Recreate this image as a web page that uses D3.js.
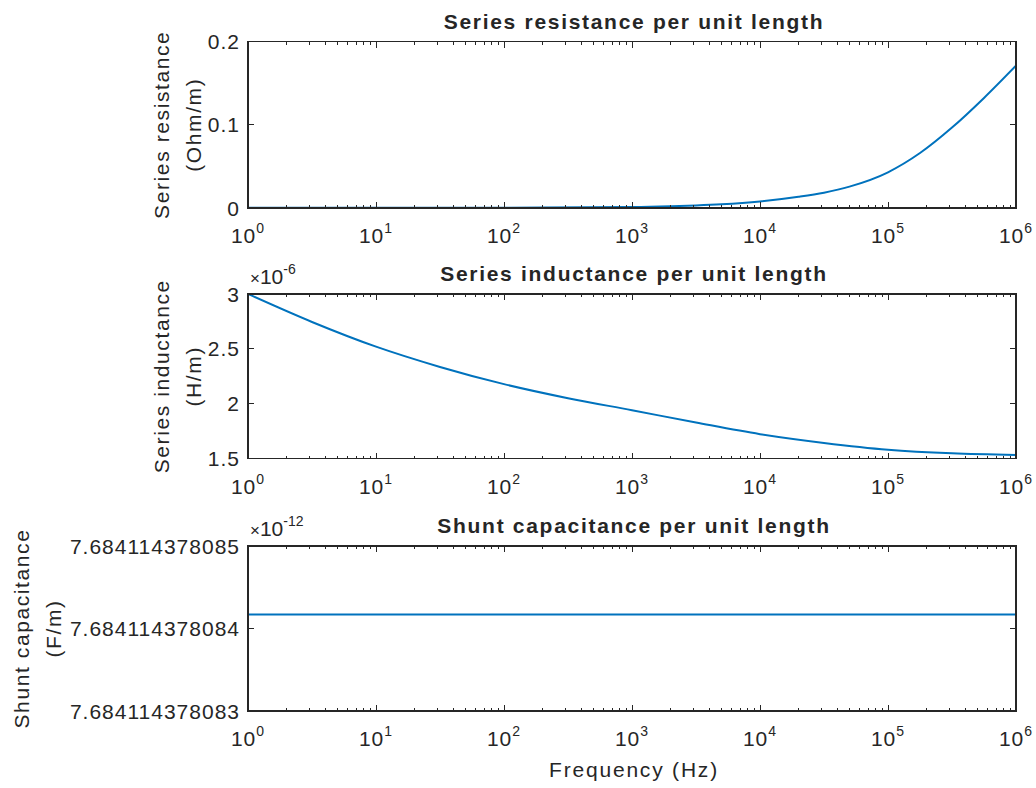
<!DOCTYPE html>
<html><head><meta charset="utf-8">
<script src="https://cdn.jsdelivr.net/npm/d3@7"></script>
<style>
body{margin:0;background:#fff}
text{font-family:"Liberation Sans",Arial,Helvetica,sans-serif;fill:#262626}
</style>
</head><body>
<svg id="c" width="1036" height="788"></svg>
<script>
// ---- data ----
const freqR = [1, 10, 100, 1000, 2000, 3162, 5000, 1e4, 2e4, 31623, 5e4, 1e5, 177828, 316228, 562341, 1e6];
const resistance = [0.0003, 0.0003, 0.0004, 0.0011, 0.002, 0.003, 0.0044, 0.0078, 0.0134, 0.0184, 0.0257, 0.0429, 0.066, 0.0966, 0.1322, 0.171];
const freqL = [1, 3.162, 10, 31.62, 100, 316.2, 1000, 3162, 1e4, 31623, 1e5, 316228, 1e6];
const inductance = [3.0, 2.745, 2.52, 2.335, 2.178, 2.05, 1.94, 1.828, 1.722, 1.642, 1.58, 1.547, 1.532]; // x1e-6
const freqC = [1, 1e6];
const capacitance = [7.68411437808417, 7.68411437808417]; // x1e-12
const xTickExps = [0, 1, 2, 3, 4, 5, 6];
const yTickLabelsR = ["0", "0.1", "0.2"];
const yTickLabelsL = ["1.5", "2", "2.5", "3"];
const yTickLabelsC = ["7.684114378083", "7.684114378084", "7.684114378085"];
const titles = ["Series resistance per unit length", "Series inductance per unit length", "Shunt capacitance per unit length"];
const yLabels = [["Series resistance", "(Ohm/m)"], ["Series inductance", "(H/m)"], ["Shunt capacitance", "(F/m)"]];
const xLabel = "Frequency (Hz)";

// ---- layout ----
const svg = d3.select("#c");
const L = 248, R = 1016;
const C = "#262626", lineC = "#0072BD";
const x = d3.scaleLog().domain([1, 1e6]).range([L, R]);

const panels = [
  {top: 41.5, bot: 208, xs: freqR, ys: resistance, ticks: yTickLabelsR, title: titles[0], ylab: yLabels[0], labX: 169, exp: null},
  {top: 294, bot: 458.5, xs: freqL, ys: inductance, ticks: yTickLabelsL, title: titles[1], ylab: yLabels[1], labX: 169, exp: "-6"},
  {top: 546, bot: 711, xs: freqC, ys: capacitance, ticks: yTickLabelsC, title: titles[2], ylab: yLabels[2], labX: 29, exp: "-12"}
];

const majorLen = 6, minorLen = 3;
const allXTicks = x.ticks();
const majorX = xTickExps.map(e => Math.pow(10, e));
const minorX = allXTicks.filter(v => !majorX.some(m => Math.abs(m - v) / m < 1e-9));

panels.forEach((p, i) => {
  const tv = p.ticks.map(Number);
  const y = d3.scaleLinear().domain([tv[0], tv[tv.length - 1]]).range([p.bot, p.top]);
  const g = svg.append("g");

  // data line
  const clipId = "clip" + i;
  svg.append("clipPath").attr("id", clipId).append("rect")
    .attr("x", L).attr("y", p.top - 2).attr("width", R - L).attr("height", p.bot - p.top + 4);
  g.append("path")
    .datum(p.xs.map((f, k) => [f, p.ys[k]]))
    .attr("clip-path", `url(#${clipId})`)
    .attr("fill", "none").attr("stroke", lineC).attr("stroke-width", 2)
    .attr("d", d3.line().x(d => x(d[0])).y(d => y(d[1])).curve(d3.curveMonotoneX));

  const ax = g.append("g").attr("shape-rendering", "crispEdges");
  // box
  ax.append("rect").attr("x", L).attr("y", p.top).attr("width", R - L).attr("height", p.bot - p.top)
    .attr("fill", "none").attr("stroke", C).attr("stroke-width", 1.2);

  // x ticks (top and bottom, inward)
  majorX.forEach(v => {
    const xx = x(v);
    ax.append("line").attr("x1", xx).attr("x2", xx).attr("y1", p.bot).attr("y2", p.bot - majorLen).attr("stroke", C);
    ax.append("line").attr("x1", xx).attr("x2", xx).attr("y1", p.top).attr("y2", p.top + majorLen).attr("stroke", C);
  });
  minorX.forEach(v => {
    const xx = x(v);
    ax.append("line").attr("x1", xx).attr("x2", xx).attr("y1", p.bot).attr("y2", p.bot - minorLen).attr("stroke", C);
    ax.append("line").attr("x1", xx).attr("x2", xx).attr("y1", p.top).attr("y2", p.top + minorLen).attr("stroke", C);
  });
  // x tick labels
  xTickExps.forEach(e => {
    const t = g.append("text").attr("x", x(Math.pow(10, e))).attr("y", p.bot + 35)
      .attr("text-anchor", "middle").style("font-size", "21px").style("letter-spacing", "1px");
    t.append("tspan").text("10");
    t.append("tspan").attr("dy", -10).style("font-size", "14px").text(String(e));
  });

  // y ticks (left and right, inward) + labels
  tv.forEach((v, k) => {
    const yy = y(v);
    ax.append("line").attr("x1", L).attr("x2", L + majorLen).attr("y1", yy).attr("y2", yy).attr("stroke", C);
    ax.append("line").attr("x1", R).attr("x2", R - majorLen).attr("y1", yy).attr("y2", yy).attr("stroke", C);
    g.append("text").attr("x", 240).attr("y", yy + 7.5).attr("text-anchor", "end")
      .style("font-size", "21px").style("letter-spacing", "1px").text(p.ticks[k]);
  });

  // exponent
  if (p.exp) {
    const t = g.append("text").attr("x", 250).attr("y", p.top - 10.5).style("font-size", "21px");
    t.append("tspan").style("font-size", "17px").text("\u00d7");
    t.append("tspan").text("10");
    t.append("tspan").attr("dy", -10).style("font-size", "14px").text(p.exp);
  }

  // title
  g.append("text").attr("x", (L + R) / 2 + 2).attr("y", p.top - 13).attr("text-anchor", "middle")
    .style("font-size", "21px").style("font-weight", "bold").style("letter-spacing", "1.7px").text(p.title);

  // y label (two lines, rotated)
  const cy = (p.top + p.bot) / 2;
  p.ylab.forEach((s, k) => {
    const lx = p.labX + k * 32;
    g.append("text").attr("transform", `translate(${lx},${cy}) rotate(-90)`).attr("text-anchor", "middle")
      .style("font-size", "21px").style("letter-spacing", "1.6px").text(s);
  });
});

// x label
svg.append("text").attr("x", 634).attr("y", 777).attr("text-anchor", "middle")
  .style("font-size", "21px").style("letter-spacing", "1.8px").text(xLabel);
</script>
</body></html>
